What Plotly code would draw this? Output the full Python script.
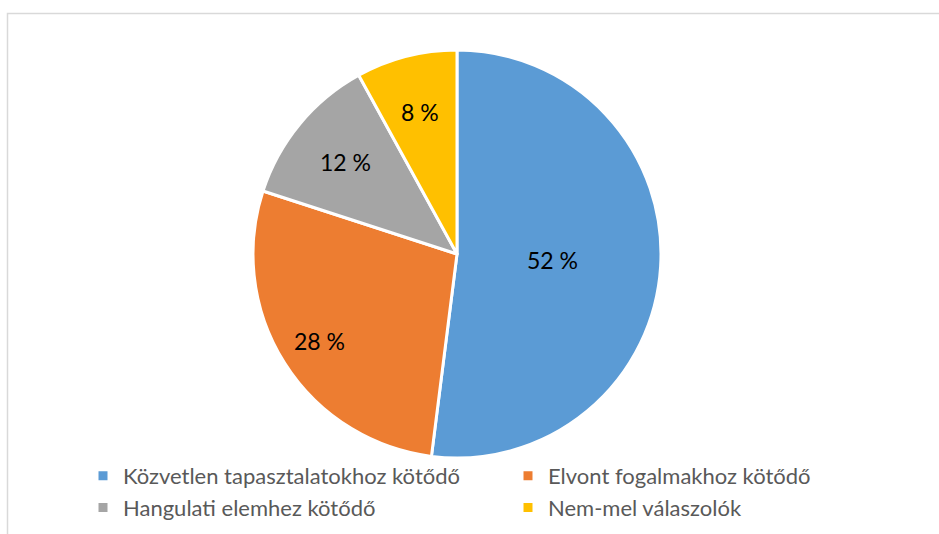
import math
import plotly.graph_objects as go

categories = ["Közvetlen tapasztalatokhoz kötődő", "Elvont fogalmakhoz kötődő",
              "Hangulati elemhez kötődő", "Nem-mel válaszolók"]
values = [52, 28, 12, 8]
colors = ["#5B9BD5", "#ED7D31", "#A5A5A5", "#FFC000"]
labels_text = [f"{v} %" for v in values]
label_radius_frac = [0.47, 0.80, 0.71, 0.72]

W, H = 939, 534
cx, cy, r = 457, 254, 204

fig = go.Figure(go.Pie(
    labels=categories, values=values,
    textinfo="none",
    marker=dict(colors=colors, line=dict(color="#FFFFFF", width=3)),
    sort=False, direction="clockwise", rotation=0,
    domain=dict(x=[(cx - r) / W, (cx + r) / W], y=[(H - cy - r) / H, (H - cy + r) / H]),
    hoverinfo="label+percent",
))

# data labels placed along each slice bisector
total = sum(values)
cum = 0
annotations = []
for v, t, f in zip(values, labels_text, label_radius_frac):
    mid = (cum + v / 2) / total * 2 * math.pi
    cum += v
    px = cx + f * r * math.sin(mid)
    py = cy - f * r * math.cos(mid)
    annotations.append(dict(x=px / W, y=1 - py / H, xref="paper", yref="paper",
                            xanchor="center", yanchor="middle",
                            text=t, showarrow=False,
                            font=dict(family="Lato", size=23, color="#000000")))

fig.update_layout(
    width=W, height=H,
    margin=dict(l=0, r=0, t=0, b=0, autoexpand=False),
    paper_bgcolor="#FFFFFF",
    showlegend=True,
    legend=dict(
        orientation="h", x=83 / W, y=1 - 455 / H, xanchor="left", yanchor="top",
        entrywidth=380, entrywidthmode="pixels",
        font=dict(family="Lato", size=22, color="#595959"),
        itemwidth=30, tracegroupgap=0, bgcolor="rgba(0,0,0,0)",
    ),
    annotations=annotations,
    shapes=[dict(type="rect", xref="paper", yref="paper",
                 x0=7.5 / W, x1=1.02, y0=-0.05, y1=1 - 13.5 / H,
                 line=dict(color="#D9D9D9", width=1.5))],
)

fig.write_html("out.html", config={"displayModeBar": False},
               post_script="document.body.style.margin='0px';")
